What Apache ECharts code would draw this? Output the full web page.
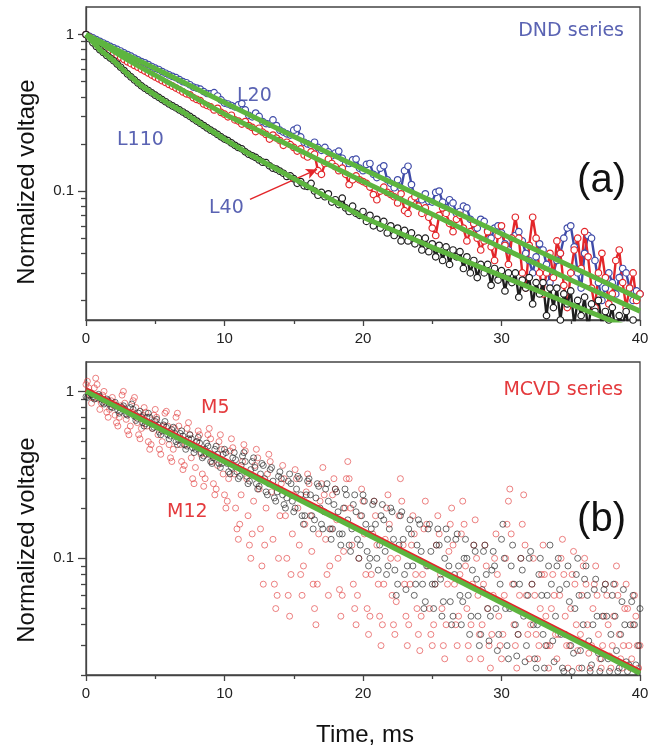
<!DOCTYPE html>
<html><head><meta charset="utf-8">
<script src="https://cdn.jsdelivr.net/npm/echarts@6/dist/echarts.min.js"></script>
<style>html,body{margin:0;padding:0;background:#fff}#c{width:660px;height:750px}</style>
</head><body><div id="c"></div><script>
// ---------- data ----------
const stepA = 0.25;   // ms between samples, panel (a)
const stepB = 0.1;    // ms between samples, panel (b)
const xTickValues = [0, 10, 20, 30, 40];
const yLabelValues = [0.1, 1];
const yMinorValues = [0.02,0.03,0.04,0.05,0.06,0.07,0.08,0.09,0.2,0.3,0.4,0.5,0.6,0.7,0.8,0.9];

// panel (a): DND series
const L20 = [
1,.975,.952,.928, .905,.883,.862,.840, .822,.803,.785,.764, .745,.728,.708,.690,
.672,.660,.643,.625, .610,.598,.580,.566, .552,.540,.530,.515, .500,.492,.478,.462,
.455,.448,.432,.420, .418,.425,.405,.382, .365,.360,.352,.345, .355,.362,.330,.305,
.298,.315,.300,.278, .270,.268,.285,.262, .245,.238,.232,.228, .245,.252,.222,.205,
.200,.196,.205,.190, .182,.190,.178,.168, .175,.180,.162,.150, .150,.158,.160,.140,
.135,.148,.150,.128, .122,.140,.145,.118, .112,.105,.118,.104, .135,.144,.110,.092,
.090,.088,.096,.086, .085,.098,.100,.085, .078,.088,.084,.072, .074,.080,.078,.066,
.062,.058,.066,.064, .056,.050,.058,.060, .054,.046,.042,.050, .052,.055,.048,.040,
.036,.030,.038,.046, .042,.034,.026,.030, .036,.040,.050,.058, .060,.044,.030,.024,
.040,.052,.050,.036, .026,.020,.024,.030, .026,.022,.028,.032, .030,.024,.020,.023,
.022];
const L40 = [
1,.96,.93,.895, .86,.835,.81,.785, .76,.737,.715,.692, .67,.652,.635,.618,
.60,.584,.567,.551, .535,.521,.507,.494, .48,.468,.455,.443, .43,.418,.412,.395,
.385,.378,.360,.352, .345,.330,.338,.318, .31,.298,.305,.285, .28,.268,.278,.262,
.255,.240,.252,.238, .23,.215,.228,.218, .21,.196,.205,.198, .19,.180,.186,.170,
.165,.178,.172,.135, .128,.150,.160,.150, .143,.135,.140,.128, .110,.118,.125,.118,
.115,.112,.106,.095, .088,.100,.106,.098, .095,.092,.084,.096, .075,.072,.088,.092,
.080,.072,.078,.068, .058,.052,.070,.078, .072,.062,.055,.066, .070,.058,.048,.055,
.062,.050,.042,.048, .055,.044,.036,.052, .060,.045,.034,.050, .068,.050,.030,.024,
.045,.068,.050,.030, .022,.030,.040,.028, .048,.040,.025,.018, .030,.042,.050,.032,
.055,.038,.024,.018, .030,.040,.028,.019, .022,.036,.042,.026, .018,.024,.030,.020,
.022];
const L110 = [
1,.94,.885,.84, .80,.768,.735,.707, .68,.648,.618,.589, .56,.536,.513,.491,
.47,.454,.439,.424, .41,.397,.384,.372, .36,.350,.340,.330, .32,.310,.300,.290,
.28,.271,.262,.253, .245,.238,.230,.222, .215,.210,.203,.196, .19,.186,.178,.172,
.168,.164,.158,.153, .152,.145,.140,.138, .134,.130,.124,.125, .120,.112,.115,.108,
.107,.112,.100,.094, .098,.092,.096,.085, .088,.082,.090,.078, .074,.080,.072,.070,
.074,.064,.070,.060, .066,.058,.064,.054, .060,.052,.058,.048, .056,.048,.054,.046,
.050,.042,.050,.041, .046,.038,.045,.036, .044,.034,.042,.038, .041,.032,.038,.030,
.036,.028,.034,.030, .034,.025,.032,.027, .031,.023,.030,.026, .030,.021,.027,.024,
.028,.019,.026,.022, .026,.016,.024,.018, .024,.015,.022,.019, .023,.014,.020,.016,
.021,.013,.019,.017, .020,.014,.017,.015, .018,.012,.016,.014, .017,.012,.015,.013,
.014];
const fitTimesA = [0,1,2,3,4,5,6,7,8,10,12,15,20,25,30,35,40];
const fitL20  = [1,.905,.819,.741,.670,.606,.549,.497,.449,.368,.301,.223,.138,.0859,.0533,.0331,.0205];
const fitL40  = [1,.885,.78,.69,.615,.55,.49,.44,.39,.31,.255,.19,.115,.071,.0435,.027,.0171];
const fitL110 = [1,.80,.68,.56,.47,.41,.36,.32,.28,.215,.168,.12,.0681,.0437,.0287,.0189,.0125];

// panel (b): MCVD series
const M5 = [
1.1,1.15,1.05,.95,.85,.92,1.05,1.2,1.1,.9,
.78,.85,.95,1.0,.88,.75,.70,.78,.88,.92,
.85,.72,.65,.62,.70,.82,.95,1.0,.85,.68,
.58,.55,.62,.75,.88,.92,.80,.65,.55,.52,
.60,.72,.80,.75,.62,.50,.45,.48,.60,.72,
.78,.70,.55,.45,.42,.50,.62,.74,.76,.62,
.48,.40,.38,.45,.60,.70,.74,.62,.48,.38,
.34,.36,.48,.60,.65,.55,.40,.30,.28,.35,
.50,.58,.55,.42,.32,.27,.30,.42,.55,.60,
.52,.38,.28,.24,.26,.36,.50,.55,.45,.32,
.24,.20,.22,.30,.44,.52,.46,.32,.20,.15,
.13,.16,.24,.38,.48,.44,.30,.18,.12,.10,
.14,.22,.36,.45,.40,.26,.15,.09,.07,.12,
.20,.32,.42,.38,.25,.13,.07,.05,.06,.10,
.18,.28,.36,.30,.18,.10,.06,.045,.08,.14,
.24,.34,.30,.20,.12,.08,.06,.09,.16,.25,
.32,.28,.18,.11,.07,.05,.04,.07,.14,.22,
.28,.35,.24,.13,.08,.06,.09,.15,.24,.30,
.26,.17,.10,.065,.045,.06,.11,.20,.30,.38,
.30,.20,.12,.07,.05,.04,.06,.10,.18,.26,
.22,.14,.08,.05,.035,.045,.08,.14,.22,.18,
.12,.07,.045,.03,.04,.07,.13,.20,.24,.16,
.10,.06,.04,.035,.055,.10,.18,.30,.22,.12,
.07,.045,.03,.04,.07,.12,.18,.14,.08,.05,
.035,.028,.045,.08,.15,.22,.16,.09,.05,.035,
.03,.04,.07,.12,.18,.14,.08,.05,.03,.025,
.04,.07,.11,.16,.20,.12,.07,.04,.03,.045,
.08,.14,.22,.16,.09,.05,.03,.025,.04,.07,
.12,.17,.10,.06,.035,.025,.04,.07,.12,.09,
.05,.03,.022,.035,.06,.10,.14,.08,.045,.03,
.025,.035,.06,.10,.16,.22,.26,.14,.07,.04,
.03,.022,.035,.06,.10,.16,.24,.12,.06,.035,
.025,.04,.07,.10,.06,.035,.025,.03,.05,.08,
.12,.08,.045,.03,.022,.03,.05,.08,.06,.035,
.025,.035,.06,.10,.13,.08,.045,.03,.022,.03,
.05,.08,.11,.07,.04,.028,.022,.035,.06,.09,
.10,.07,.04,.027,.022,.03,.05,.07,.09,.06,
.035,.025,.022,.03,.045,.07,.06,.04,.026,.022,
.03,.045,.07,.09,.06,.035,.025,.022,.03,.05,
.07,.05,.03,.022,.025,.04,.06,.045,.03,.022,
.03];
const M12 = [
.93,.92,.95,.98,.96,.93,.90,.91,.94,.96,
.93,.90,.86,.84,.86,.90,.88,.84,.81,.80,
.83,.86,.82,.77,.74,.76,.80,.82,.78,.73,
.72,.74,.80,.84,.78,.71,.67,.69,.74,.76,
.70,.65,.62,.64,.70,.74,.70,.64,.60,.61,
.66,.68,.63,.57,.55,.58,.63,.66,.61,.55,
.52,.54,.59,.61,.56,.50,.48,.51,.56,.58,
.54,.48,.45,.47,.52,.55,.52,.46,.43,.45,
.50,.53,.49,.43,.40,.41,.45,.49,.47,.42,
.38,.37,.40,.45,.47,.42,.37,.35,.37,.42,
.45,.43,.37,.33,.32,.35,.40,.43,.39,.33,
.30,.31,.36,.41,.43,.38,.31,.28,.29,.34,
.38,.40,.35,.28,.26,.27,.32,.37,.36,.30,
.25,.24,.28,.34,.35,.29,.23,.22,.25,.31,
.33,.30,.24,.21,.20,.23,.29,.32,.28,.22,
.19,.20,.26,.31,.30,.24,.18,.16,.18,.24,
.29,.30,.24,.18,.15,.17,.23,.28,.27,.20,
.16,.15,.19,.26,.28,.22,.15,.13,.15,.21,
.26,.25,.19,.14,.12,.14,.20,.26,.24,.17,
.12,.11,.15,.21,.24,.19,.13,.10,.12,.18,
.24,.22,.16,.11,.09,.10,.15,.21,.22,.16,
.10,.085,.12,.18,.21,.17,.11,.08,.09,.15,
.20,.19,.13,.085,.06,.07,.12,.18,.19,.13,
.08,.065,.09,.15,.17,.14,.09,.06,.07,.12,
.17,.16,.11,.07,.05,.055,.09,.15,.16,.11,
.07,.05,.07,.12,.15,.12,.075,.045,.055,.10,
.15,.13,.09,.055,.04,.045,.08,.13,.14,.09,
.06,.04,.055,.10,.13,.10,.06,.035,.045,.085,
.12,.11,.075,.045,.03,.035,.065,.11,.12,.08,
.05,.032,.045,.085,.11,.09,.05,.028,.035,.07,
.13,.16,.10,.05,.03,.025,.05,.09,.12,.07,
.04,.026,.035,.07,.10,.085,.045,.024,.03,.06,
.10,.11,.07,.04,.025,.022,.04,.08,.10,.06,
.035,.022,.03,.06,.09,.12,.07,.032,.024,.045,
.09,.10,.065,.035,.022,.021,.035,.07,.09,.055,
.03,.021,.027,.05,.08,.10,.06,.028,.022,.04,
.075,.09,.06,.032,.021,.023,.04,.065,.075,.045,
.027,.021,.025,.045,.065,.07,.045,.025,.021,.035,
.06,.07,.045,.028,.021,.022,.035,.055,.065,.04,
.024,.021,.023,.04,.055,.06,.04,.023,.021,.03,
.05];
const fitTimesB = [0, 40];
const fitM12 = [1, 0.0205];
const fitM5  = [1.025, 0.021];

// ---------- chart ----------
const FONT = 'Liberation Sans, Arial, sans-serif';
const AFONT = 'DejaVu Sans, Verdana, sans-serif';
const AX = '#444';
const BLUE = '#3f4ba8', RED = '#e3262a', BLACK = '#1e1e1e', GREEN = '#5db53f';
const TXT_BLUE = '#5a63b3', TXT_RED = '#e43a3d';

const pairs = (arr, step) => arr.map((v, i) => [Math.round(i * step * 100) / 100, v]);
const zip = (ts, vs) => ts.map((t, i) => [t, vs[i]]);

const grids = [
  {left: 86, top: 7, width: 554, height: 313},
  {left: 86, top: 362, width: 554, height: 313}
];
const gridOpt = grids.map(g => Object.assign({show: true, borderColor: AX, borderWidth: 1.3, backgroundColor: 'transparent'}, g))
  .concat(grids.map(g => Object.assign({show: false}, g)));

function xAxis(gi, visible) {
  return {
    type: 'value', gridIndex: gi, min: 0, max: 40, interval: 10, show: visible,
    axisLine: {show: true, onZero: false, lineStyle: {color: AX, width: 1.3}},
    axisTick: {show: true, length: 6, customValues: xTickValues, lineStyle: {color: AX, width: 1.3}},
    minorTick: {show: true, splitNumber: 2, length: 4, lineStyle: {color: AX, width: 1.3}},
    axisLabel: {color: '#222', fontSize: 15, fontFamily: FONT, margin: 11, customValues: xTickValues},
    splitLine: {show: false}, minorSplitLine: {show: false}
  };
}
function yAxisMain(gi, min, max) {
  return {
    type: 'log', logBase: 10, gridIndex: gi, min: min, max: max,
    axisLine: {show: true, onZero: false, lineStyle: {color: AX, width: 1.3}},
    axisTick: {show: true, length: 5, customValues: yMinorValues, lineStyle: {color: AX, width: 1.3}},
    axisLabel: {show: true, customValues: yLabelValues, color: '#222', fontSize: 15, fontFamily: FONT, margin: 12,
      formatter: v => String(Math.round(v * 1000) / 1000)},
    splitLine: {show: false}, minorTick: {show: false}
  };
}
function yAxisMajor(gi, min, max) {
  return {
    type: 'log', logBase: 10, gridIndex: gi, min: min, max: max,
    axisLine: {show: false},
    axisTick: {show: true, length: 8, customValues: yLabelValues, lineStyle: {color: AX, width: 1.3}},
    axisLabel: {show: false},
    splitLine: {show: false}, minorTick: {show: false}
  };
}

function dataLine(name, arr, color) {
  return {
    name: name, type: 'line', xAxisIndex: 0, yAxisIndex: 0, data: pairs(arr, stepA),
    symbol: 'circle', symbolSize: 6.5, showSymbol: true, showAllSymbol: true,
    itemStyle: {color: '#fff', borderColor: color, borderWidth: 1.2},
    lineStyle: {color: color, width: 2.4}, clip: true, z: 2
  };
}
function fitLine(ts, vs, xi, yi, color, width, z) {
  return {
    type: 'line', xAxisIndex: xi, yAxisIndex: yi, data: zip(ts, vs), symbol: 'none',
    lineStyle: {color: color, width: width}, clip: true, z: z, silent: true
  };
}
function scat(arr, color) {
  return {
    type: 'scatter', xAxisIndex: 1, yAxisIndex: 1, data: pairs(arr, stepB),
    symbol: 'circle', symbolSize: 6,
    itemStyle: {color: 'rgba(255,255,255,0)', borderColor: color, borderWidth: 1}, clip: true, z: 2
  };
}

const l40 = dataLine('L40', L40, RED);
l40.markLine = {
  silent: true, symbol: ['none', 'arrow'], symbolSize: [8, 11],
  lineStyle: {color: RED, width: 1.5, type: 'solid'}, label: {show: false},
  data: [[{coord: [11.84, 0.0885]}, {coord: [16.68, 0.1375]}]]
};

const option = {
  animation: false,
  backgroundColor: '#fff',
  grid: gridOpt,
  xAxis: [xAxis(0, true), xAxis(1, true), xAxis(2, false), xAxis(3, false)],
  yAxis: [yAxisMain(0, 0.015, 1.5), yAxisMain(1, 0.02, 1.5), yAxisMajor(2, 0.015, 1.5), yAxisMajor(3, 0.02, 1.5)],
  series: [
    dataLine('L20', L20, BLUE),
    l40,
    dataLine('L110', L110, BLACK),
    fitLine(fitTimesA, fitL20, 0, 0, GREEN, 5, 5),
    fitLine(fitTimesA, fitL40, 0, 0, GREEN, 5, 5),
    fitLine(fitTimesA, fitL110, 0, 0, GREEN, 5, 5),
    scat(M5, 'rgba(226,60,60,0.8)'),
    scat(M12, 'rgba(40,40,40,0.85)'),
    fitLine(fitTimesB, fitM5, 1, 1, RED, 5, 4),
    fitLine(fitTimesB, fitM12, 1, 1, GREEN, 5, 5)
  ],
  graphic: [
    {type: 'text', x: 27, y: 182, rotation: Math.PI / 2, style: {text: 'Normalized voltage', fontSize: 24, fontFamily: FONT, fill: '#111', align: 'center', verticalAlign: 'middle'}},
    {type: 'text', x: 27, y: 540, rotation: Math.PI / 2, style: {text: 'Normalized voltage', fontSize: 24, fontFamily: FONT, fill: '#111', align: 'center', verticalAlign: 'middle'}},
    {type: 'text', x: 365, y: 735, style: {text: 'Time, ms', fontSize: 24, fontFamily: FONT, fill: '#111', align: 'center', verticalAlign: 'middle'}},
    {type: 'text', x: 624, y: 31, style: {text: 'DND series', fontSize: 19, fontFamily: AFONT, fill: TXT_BLUE, align: 'right', verticalAlign: 'middle'}},
    {type: 'text', x: 626, y: 181, style: {text: '(a)', fontSize: 40, fontFamily: FONT, fill: '#111', align: 'right', verticalAlign: 'middle'}},
    {type: 'text', x: 237, y: 96, style: {text: 'L20', fontSize: 19, fontFamily: AFONT, fill: TXT_BLUE, align: 'left', verticalAlign: 'middle'}},
    {type: 'text', x: 117, y: 140, style: {text: 'L110', fontSize: 19, fontFamily: AFONT, fill: TXT_BLUE, align: 'left', verticalAlign: 'middle'}},
    {type: 'text', x: 209, y: 208, style: {text: 'L40', fontSize: 19, fontFamily: AFONT, fill: TXT_BLUE, align: 'left', verticalAlign: 'middle'}},
    {type: 'text', x: 623, y: 390, style: {text: 'MCVD series', fontSize: 19, fontFamily: AFONT, fill: TXT_RED, align: 'right', verticalAlign: 'middle'}},
    {type: 'text', x: 201, y: 408, style: {text: 'M5', fontSize: 19, fontFamily: AFONT, fill: TXT_RED, align: 'left', verticalAlign: 'middle'}},
    {type: 'text', x: 167, y: 512, style: {text: 'M12', fontSize: 19, fontFamily: AFONT, fill: TXT_RED, align: 'left', verticalAlign: 'middle'}},
    {type: 'text', x: 626, y: 520, style: {text: '(b)', fontSize: 40, fontFamily: FONT, fill: '#111', align: 'right', verticalAlign: 'middle'}}
  ]
};

const chart = echarts.init(document.getElementById('c'), null, {renderer: 'canvas'});
chart.setOption(option);
</script></body></html>
